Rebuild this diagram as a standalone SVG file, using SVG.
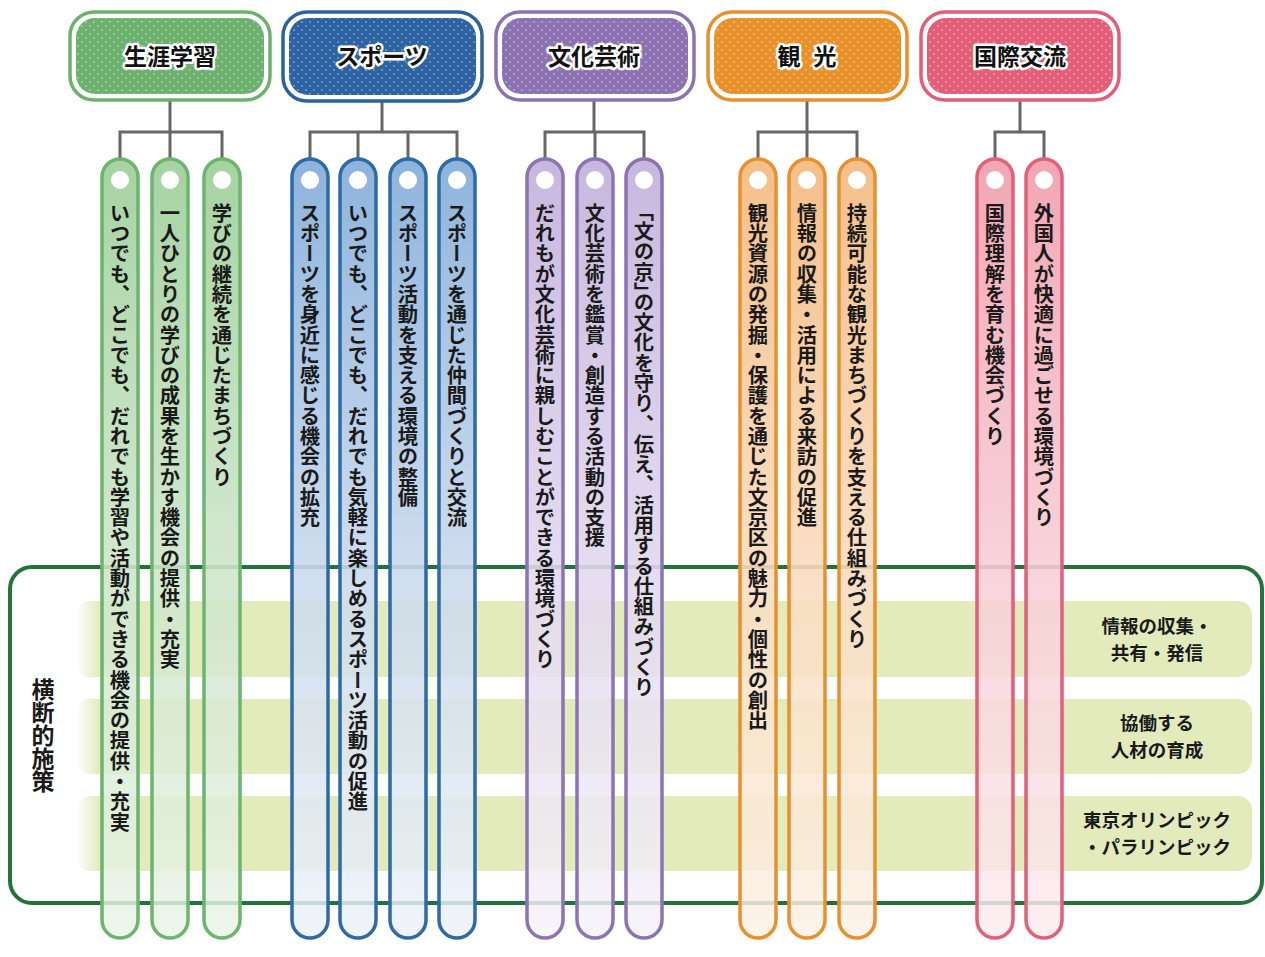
<svg xmlns="http://www.w3.org/2000/svg" width="1265" height="957" viewBox="0 0 1265 957">
<defs>
<style>
.pt{font-family:"Noto Sans CJK JP","Noto Sans",sans-serif;font-size:20.3px;font-weight:bold;fill:#1a1a1a;writing-mode:vertical-rl;}
.ht{font-family:"Noto Sans CJK JP","Noto Sans",sans-serif;font-size:23px;font-weight:bold;fill:#111;stroke:#fff;stroke-width:5;paint-order:stroke;stroke-linejoin:round;text-anchor:middle;}
.lt{font-family:"Noto Sans CJK JP","Noto Sans",sans-serif;font-size:18.5px;font-weight:bold;fill:#1a1a1a;text-anchor:middle;}
.vt{font-family:"Noto Sans CJK JP","Noto Sans",sans-serif;font-size:23px;font-weight:bold;fill:#1a1a1a;writing-mode:vertical-rl;}
.conn{stroke:#666;stroke-width:3;fill:none;}
.hole{fill:#fff;}
.g .pill{fill:url(#gg);stroke:#6cb56e;}
.b .pill{fill:url(#gb);stroke:#2c6aa8;}
.p .pill{fill:url(#gp);stroke:#8c74b4;}
.o .pill{fill:url(#go);stroke:#e8912c;}
.k .pill{fill:url(#gk);stroke:#e45f79;}
.pill{stroke-width:3.5;}
.band{fill:url(#bandg);}
</style>
<linearGradient id="gg" x1="0" y1="0" x2="0" y2="1"><stop offset="0" stop-color="#a6d3a2"/><stop offset="0.55" stop-color="#cfe6cb" stop-opacity="0.88"/><stop offset="1" stop-color="#e9f4e7" stop-opacity="0.82"/></linearGradient>
<linearGradient id="gb" x1="0" y1="0" x2="0" y2="1"><stop offset="0" stop-color="#8db3dc"/><stop offset="0.55" stop-color="#cbdaed" stop-opacity="0.88"/><stop offset="1" stop-color="#edf2f9" stop-opacity="0.82"/></linearGradient>
<linearGradient id="gp" x1="0" y1="0" x2="0" y2="1"><stop offset="0" stop-color="#c7b7de"/><stop offset="0.55" stop-color="#e2d9ee" stop-opacity="0.88"/><stop offset="1" stop-color="#f5f2f9" stop-opacity="0.82"/></linearGradient>
<linearGradient id="go" x1="0" y1="0" x2="0" y2="1"><stop offset="0" stop-color="#f5bf8a"/><stop offset="0.55" stop-color="#fadcc0" stop-opacity="0.88"/><stop offset="1" stop-color="#fdf1e6" stop-opacity="0.82"/></linearGradient>
<linearGradient id="gk" x1="0" y1="0" x2="0" y2="1"><stop offset="0" stop-color="#f2a6b4"/><stop offset="0.55" stop-color="#f8cfd7" stop-opacity="0.88"/><stop offset="1" stop-color="#fcecef" stop-opacity="0.82"/></linearGradient>
<linearGradient id="bandg" x1="0" y1="0" x2="1" y2="0"><stop offset="0" stop-color="#e3ebbd" stop-opacity="0"/><stop offset="0.02" stop-color="#e3ebbd"/><stop offset="1" stop-color="#e3ebbd"/></linearGradient>
<pattern id="dots" width="8" height="8" patternUnits="userSpaceOnUse"><circle cx="2" cy="2" r="1.1" fill="#fff" fill-opacity="0.35"/><circle cx="6" cy="6" r="1.1" fill="#fff" fill-opacity="0.35"/></pattern>
</defs>
<rect width="1265" height="957" fill="#fff"/>

<g id="crosscutting">
<rect x="10" y="567" width="1252" height="336" rx="22" fill="none" stroke="#22743a" stroke-width="4"/>
<rect class="band" x="76" y="601" width="1176" height="76" rx="14"/>
<rect class="band" x="76" y="699" width="1176" height="75" rx="14"/>
<rect class="band" x="76" y="796" width="1176" height="75" rx="14"/>
<text class="vt" x="43" y="678">横断的施策</text>
<text class="lt"><tspan x="1157" y="633">情報の収集・</tspan><tspan x="1157" y="660">共有・発信</tspan></text>
<text class="lt"><tspan x="1157" y="730">協働する</tspan><tspan x="1157" y="757">人材の育成</tspan></text>
<text class="lt"><tspan x="1157" y="827">東京オリンピック</tspan><tspan x="1157" y="854">・パラリンピック</tspan></text>
</g>

<g id="connectors">
<path class="conn" d="M170 100V132M120 158V132H222V158M170 132V158"/>
<path class="conn" d="M382 102V132M310 158V132H457V158M358 132V158M408 132V158"/>
<path class="conn" d="M594 100V132M545 158V132H644V158M595 132V158"/>
<path class="conn" d="M807 100V132M758 158V132H857V158M807 132V158"/>
<path class="conn" d="M1020 100V132M995 158V132H1044V158"/>
</g>

<g id="header-shogai">
<rect x="70" y="12" width="200" height="88" rx="24" fill="#fff" stroke="#6cb26e" stroke-width="3.5"/>
<rect x="76" y="18" width="188" height="76" rx="19" fill="#6cb26e"/>
<rect x="76" y="18" width="188" height="76" rx="19" fill="url(#dots)"/>
<text class="ht" x="170" y="65">生涯学習</text>
</g>
<g id="header-sports">
<rect x="283" y="12" width="199" height="89" rx="24" fill="#fff" stroke="#2a62a0" stroke-width="3.5"/>
<rect x="289" y="18" width="187" height="77" rx="19" fill="#2d63a2"/>
<rect x="289" y="18" width="187" height="77" rx="19" fill="url(#dots)"/>
<text class="ht" x="382" y="65">スポーツ</text>
</g>
<g id="header-bunka">
<rect x="496" y="12" width="198" height="88" rx="24" fill="#fff" stroke="#8c72b2" stroke-width="3.5"/>
<rect x="502" y="18" width="186" height="76" rx="19" fill="#8c72b2"/>
<rect x="502" y="18" width="186" height="76" rx="19" fill="url(#dots)"/>
<text class="ht" x="594" y="65">文化芸術</text>
</g>
<g id="header-kanko">
<rect x="708" y="12" width="199" height="88" rx="24" fill="#fff" stroke="#e8912a" stroke-width="3.5"/>
<rect x="714" y="18" width="187" height="76" rx="19" fill="#e8912a"/>
<rect x="714" y="18" width="187" height="76" rx="19" fill="url(#dots)"/>
<text class="ht" x="807" y="65" word-spacing="8">観 光</text>
</g>
<g id="header-kokusai">
<rect x="921" y="12" width="198" height="88" rx="24" fill="#fff" stroke="#e35d78" stroke-width="3.5"/>
<rect x="927" y="18" width="186" height="76" rx="19" fill="#e35d78"/>
<rect x="927" y="18" width="186" height="76" rx="19" fill="url(#dots)"/>
<text class="ht" x="1020" y="65">国際交流</text>
</g>

<g class="g">
<g id="pill-g1"><rect class="pill" x="102" y="159" width="36" height="779" rx="18"/><circle class="hole" cx="120" cy="180" r="9"/><text class="pt" x="120" y="203">いつでも、どこでも、だれでも学習や活動ができる機会の提供・充実</text></g>
<g id="pill-g2"><rect class="pill" x="152" y="159" width="36" height="779" rx="18"/><circle class="hole" cx="170" cy="180" r="9"/><text class="pt" x="170" y="203">一人ひとりの学びの成果を生かす機会の提供・充実</text></g>
<g id="pill-g3"><rect class="pill" x="204" y="159" width="36" height="779" rx="18"/><circle class="hole" cx="222" cy="180" r="9"/><text class="pt" x="222" y="203">学びの継続を通じたまちづくり</text></g>
</g>
<g class="b">
<g id="pill-b1"><rect class="pill" x="292" y="159" width="36" height="779" rx="18"/><circle class="hole" cx="310" cy="180" r="9"/><text class="pt" x="310" y="203">スポーツを身近に感じる機会の拡充</text></g>
<g id="pill-b2"><rect class="pill" x="340" y="159" width="36" height="779" rx="18"/><circle class="hole" cx="358" cy="180" r="9"/><text class="pt" x="358" y="203">いつでも、どこでも、だれでも気軽に楽しめるスポーツ活動の促進</text></g>
<g id="pill-b3"><rect class="pill" x="390" y="159" width="36" height="779" rx="18"/><circle class="hole" cx="408" cy="180" r="9"/><text class="pt" x="408" y="203">スポーツ活動を支える環境の整備</text></g>
<g id="pill-b4"><rect class="pill" x="439" y="159" width="36" height="779" rx="18"/><circle class="hole" cx="457" cy="180" r="9"/><text class="pt" x="457" y="203">スポーツを通じた仲間づくりと交流</text></g>
</g>
<g class="p">
<g id="pill-p1"><rect class="pill" x="527" y="159" width="36" height="779" rx="18"/><circle class="hole" cx="545" cy="180" r="9"/><text class="pt" x="545" y="203">だれもが文化芸術に親しむことができる環境づくり</text></g>
<g id="pill-p2"><rect class="pill" x="577" y="159" width="36" height="779" rx="18"/><circle class="hole" cx="595" cy="180" r="9"/><text class="pt" x="595" y="203">文化芸術を鑑賞・創造する活動の支援</text></g>
<g id="pill-p3"><rect class="pill" x="626" y="159" width="36" height="779" rx="18"/><circle class="hole" cx="644" cy="180" r="9"/><text class="pt" x="644" y="201">「文の京」<tspan dy="-10">の文化を守り、伝え、活用する仕組みづくり</tspan></text></g>
</g>
<g class="o">
<g id="pill-o1"><rect class="pill" x="740" y="159" width="36" height="779" rx="18"/><circle class="hole" cx="758" cy="180" r="9"/><text class="pt" x="758" y="203">観光資源の発掘・保護を通じた文京区の魅力・個性の創出</text></g>
<g id="pill-o2"><rect class="pill" x="789" y="159" width="36" height="779" rx="18"/><circle class="hole" cx="807" cy="180" r="9"/><text class="pt" x="807" y="203">情報の収集・活用による来訪の促進</text></g>
<g id="pill-o3"><rect class="pill" x="839" y="159" width="36" height="779" rx="18"/><circle class="hole" cx="857" cy="180" r="9"/><text class="pt" x="857" y="203">持続可能な観光まちづくりを支える仕組みづくり</text></g>
</g>
<g class="k">
<g id="pill-k1"><rect class="pill" x="977" y="159" width="36" height="779" rx="18"/><circle class="hole" cx="995" cy="180" r="9"/><text class="pt" x="995" y="203">国際理解を育む機会づくり</text></g>
<g id="pill-k2"><rect class="pill" x="1026" y="159" width="36" height="779" rx="18"/><circle class="hole" cx="1044" cy="180" r="9"/><text class="pt" x="1044" y="203">外国人が快適に過ごせる環境づくり</text></g>
</g>
</svg>
